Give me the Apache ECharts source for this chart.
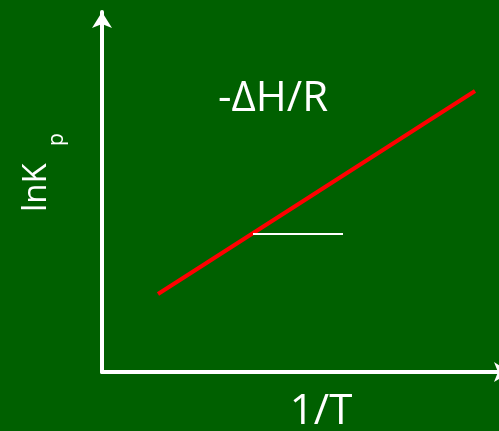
<!DOCTYPE html>
<html>
<head>
<meta charset="utf-8">
<script src="https://cdn.jsdelivr.net/npm/echarts@6/dist/echarts.min.js"></script>
<style>
  html, body { margin: 0; padding: 0; background: #006000; }
  #myChart { width: 499px; height: 431px; }
</style>
</head>
<body>
<div id="myChart"></div>
<script>
// data in plot units (x: 1/T, y: lnKp), arbitrary scale
const xRange = [0, 397];
const yRange = [0, 360];
const fitLine = [[56, 78], [373, 281]];
const slopeRun = [[151, 138], [241, 138]];
const slopeLabel = "-ΔH/R";
const xTitle = "1/T";
const yTitle = "lnK";
const ySub = "p";

let myChart = echarts.init(document.getElementById("myChart"));

const font = '"Open Sans", sans-serif';
const white = "#ffffff";

// both axes look the same: white line with an arrow, nothing else
function plainAxis(range, arrowShift) {
  return {
    type: "value",
    min: range[0],
    max: range[1],
    axisLine: {
      show: true,
      symbol: ["none", "arrow"],
      symbolSize: [15, 16],
      symbolOffset: [0, arrowShift],
      lineStyle: { color: white, width: 4 },
    },
    axisTick: { show: false },
    axisLabel: { show: false },
    splitLine: { show: false },
  };
}

let option = {
  backgroundColor: "#006000",
  animation: false,
  grid: { left: 102, right: 0, top: 12, bottom: 59 },
  xAxis: plainAxis(xRange, 11), // arrow runs off the right edge
  yAxis: plainAxis(yRange, 0),
  series: [
    {
      type: "line",
      data: fitLine,
      symbol: "none",
      lineStyle: { color: "#ff0000", width: 4 },
    },
    {
      type: "line",
      data: slopeRun,
      symbol: "none",
      lineStyle: { color: white, width: 2 },
    },
  ],
  graphic: [
    {
      type: "text",
      x: 273,
      y: 99,
      style: {
        text: slopeLabel,
        font: "42px " + font,
        fill: white,
        align: "center",
        verticalAlign: "middle",
      },
    },
    {
      type: "text",
      x: 321,
      y: 412,
      style: {
        text: xTitle,
        font: "42px " + font,
        fill: white,
        align: "center",
        verticalAlign: "middle",
      },
    },
    {
      type: "text",
      x: 37,
      y: 212,
      rotation: Math.PI / 2,
      style: {
        text: yTitle,
        font: "33px " + font,
        fill: white,
        align: "left",
        verticalAlign: "middle",
      },
    },
    {
      type: "text",
      x: 57,
      y: 146,
      rotation: Math.PI / 2,
      style: {
        text: ySub,
        font: "21px " + font,
        fill: white,
        align: "left",
        verticalAlign: "middle",
      },
    },
  ],
};

myChart.setOption(option);
</script>
</body>
</html>
